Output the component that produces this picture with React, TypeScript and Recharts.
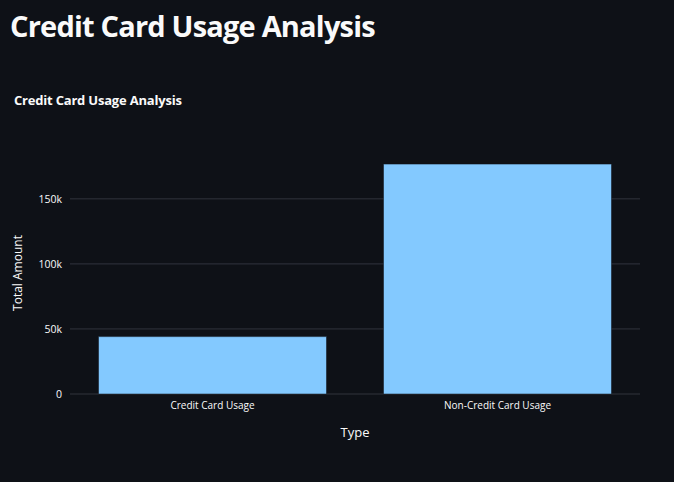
import React from 'react';
import { BarChart, Bar, XAxis, YAxis, CartesianGrid } from 'recharts';

const categories = ['Credit Card Usage', 'Non-Credit Card Usage'];
const totals = [44100, 176700];
const yTicks = [0, 50000, 100000, 150000];

const data = categories.map((type, i) => ({ type, total: totals[i] }));

const font = '"Open Sans", "Noto Sans", sans-serif';
const fmt = (v: number) => (v === 0 ? '0' : `${v / 1000}k`);

const App: React.FC = () => {
  return (
    <div style={{ position: 'absolute', left: 0, top: 0, width: 674, height: 482, background: '#0e1117', overflow: 'hidden', fontFamily: font }}>
      <div style={{ position: 'absolute', left: 10, top: 11, fontSize: 29, letterSpacing: -0.8, lineHeight: 1, fontWeight: 700, color: '#fafafa', whiteSpace: 'nowrap' }}>
        Credit Card Usage Analysis
      </div>
      <div style={{ position: 'absolute', left: 14, top: 94, fontSize: 13, letterSpacing: -0.2, lineHeight: 1, fontWeight: 700, color: '#fafafa', whiteSpace: 'nowrap' }}>
        Credit Card Usage Analysis
      </div>
      <div style={{ position: 'absolute', left: 0, top: 0 }}>
        <BarChart width={674} height={482} data={data} margin={{ top: 152, right: 34, bottom: 45, left: 8 }} barCategoryGap="10%">
          <CartesianGrid horizontal vertical={false} horizontalValues={yTicks} stroke="#31343d" />
          <XAxis
            dataKey="type"
            height={43}
            axisLine={false}
            tickLine={false}
            tickMargin={2}
            tick={{ fill: '#fafafa', fontSize: 10, fontFamily: font }}
            label={{ value: 'Type', position: 'insideBottom', offset: 0, fill: '#fafafa', fontSize: 13, fontFamily: font }}
          />
          <YAxis
            width={62}
            domain={[0, 186000]}
            ticks={yTicks}
            tickFormatter={fmt}
            axisLine={false}
            tickLine={false}
            tick={{ fill: '#fafafa', fontSize: 10.5, fontFamily: font }}
            label={{ value: 'Total Amount', angle: -90, position: 'insideLeft', offset: 10, fill: '#fafafa', fontSize: 12, fontFamily: font, style: { textAnchor: 'middle' } }}
          />
          <Bar dataKey="total" fill="#83c9ff" stroke="#0e1117" strokeWidth={0.5} isAnimationActive={false} />
        </BarChart>
      </div>
    </div>
  );
};

export default App;
